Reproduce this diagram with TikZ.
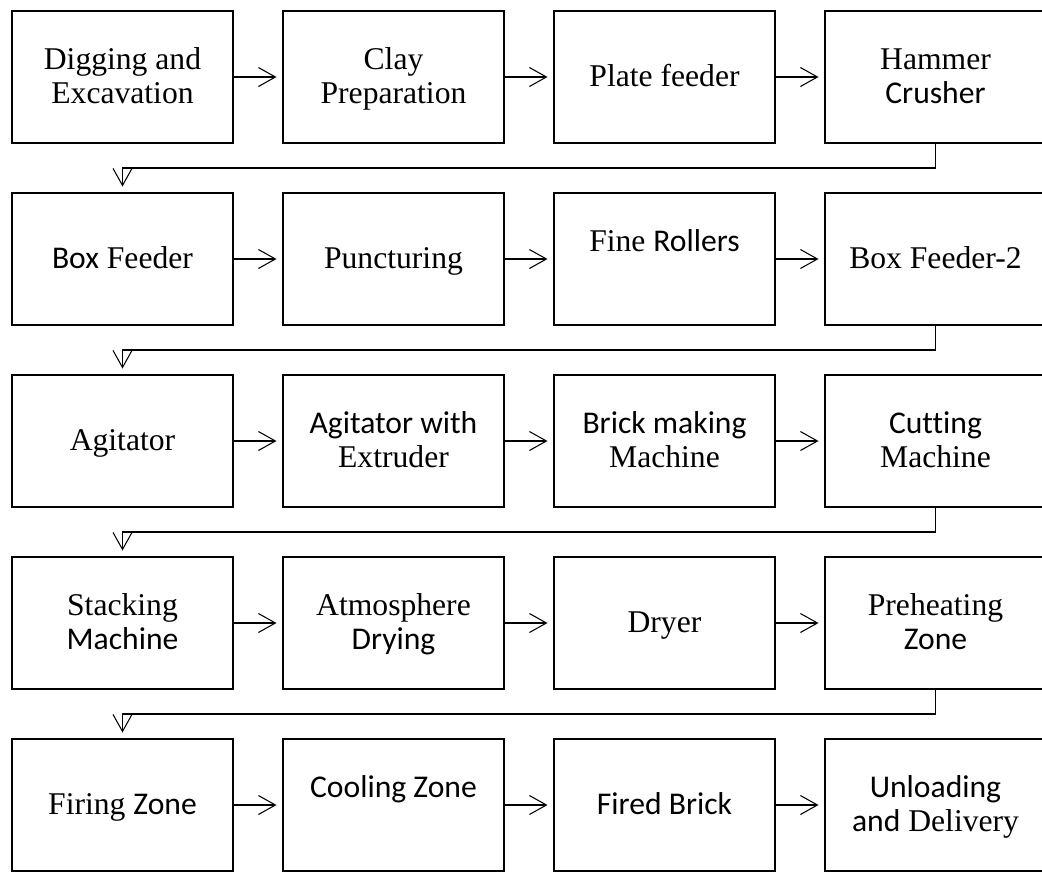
\documentclass[tikz,border=0pt]{standalone}
\usepackage{fontspec}
\setmainfont{Liberation Serif}
\newfontfamily\carlito[Ligatures=NoCommon]{Carlito}
\newcommand{\cw}[1]{{\carlito #1}}
\newcommand{\boxstrut}{\rule[-5.7pt]{0pt}{22.4pt}}
\usepackage{tikz}
\usetikzlibrary{positioning}
\usetikzlibrary{arrows.meta}
\tikzset{>={Straight Barb[length=3.4mm,width=3.8mm]}}

\begin{document}
\begin{tikzpicture}[node distance=1cm, box/.style={rectangle, draw=black, line width=1.4pt, text width=4.42cm, minimum width=4.42cm, minimum height=2.64cm, inner sep=0pt, outer sep=0pt, align=flush center, font=\fontsize{18}{19}\selectfont, execute at begin node=\boxstrut, execute at end node=\strut}, flow/.style={->, line width=0.6pt, shorten >=1.3mm}]

    \useasboundingbox (0,0) rectangle (20.84,-17.46);
    \clip (0,0) rectangle (20.84,-17.46);

    %Nodes
    \node[box](dig) at (2.45,-1.54){Digging and\\Excavation};
    \node[box](clay)[right=of dig]{Clay\\Preparation};
    \node[box](plate)[right=of clay]{Plate feeder};
    \node[box](hammer)[right=of plate]{Hammer\\\cw{Crusher}};

    \node[box](boxfeed)[below=of dig]{\cw{Box} Feeder};
    \node[box](puncture)[right=of boxfeed]{Puncturing};
    \node[box](rollers)[right=of puncture]{Fine \cw{Rollers}\\~};
    \node[box](boxfeed2)[right=of rollers]{Box Feeder-2};

    \node[box](agitator)[below=of boxfeed]{Agitator};
    \node[box](extruder)[right=of agitator]{\cw{Agitator with}\\Extruder};
    \node[box](brickmc)[right=of extruder]{\cw{Brick making}\\Machine};
    \node[box](cutting)[right=of brickmc]{\cw{Cutting}\\Machine};

    \node[box](stacking)[below=of agitator]{Stacking\\\cw{Machine}};
    \node[box](atmos)[right=of stacking]{Atmosphere\\\cw{Drying}};
    \node[box](dryer)[right=of atmos]{Dryer};
    \node[box](preheat)[right=of dryer]{Preheating\\\cw{Zone}};

    \node[box](firing)[below=of stacking]{Firing \cw{Zone}};
    \node[box](cooling)[right=of firing]{\cw{Cooling Zone}\\~};
    \node[box](fired)[right=of cooling]{\cw{Fired Brick}};
    \node[box](unload)[right=of fired]{\cw{Unloading}\\\cw{and} Delivery};

    %Lines
    \draw[flow] (dig.east) -- (clay.west);
    \draw[flow] (clay.east) -- (plate.west);
    \draw[flow] (plate.east) -- (hammer.west);
    \draw[flow] (hammer.south) -- ++(0,-0.5) -| (boxfeed.north);

    \draw[flow] (boxfeed.east) -- (puncture.west);
    \draw[flow] (puncture.east) -- (rollers.west);
    \draw[flow] (rollers.east) -- (boxfeed2.west);
    \draw[flow] (boxfeed2.south) -- ++(0,-0.5) -| (agitator.north);

    \draw[flow] (agitator.east) -- (extruder.west);
    \draw[flow] (extruder.east) -- (brickmc.west);
    \draw[flow] (brickmc.east) -- (cutting.west);
    \draw[flow] (cutting.south) -- ++(0,-0.5) -| (stacking.north);

    \draw[flow] (stacking.east) -- (atmos.west);
    \draw[flow] (atmos.east) -- (dryer.west);
    \draw[flow] (dryer.east) -- (preheat.west);
    \draw[flow] (preheat.south) -- ++(0,-0.5) -| (firing.north);

    \draw[flow] (firing.east) -- (cooling.west);
    \draw[flow] (cooling.east) -- (fired.west);
    \draw[flow] (fired.east) -- (unload.west);

\end{tikzpicture}
\end{document}
